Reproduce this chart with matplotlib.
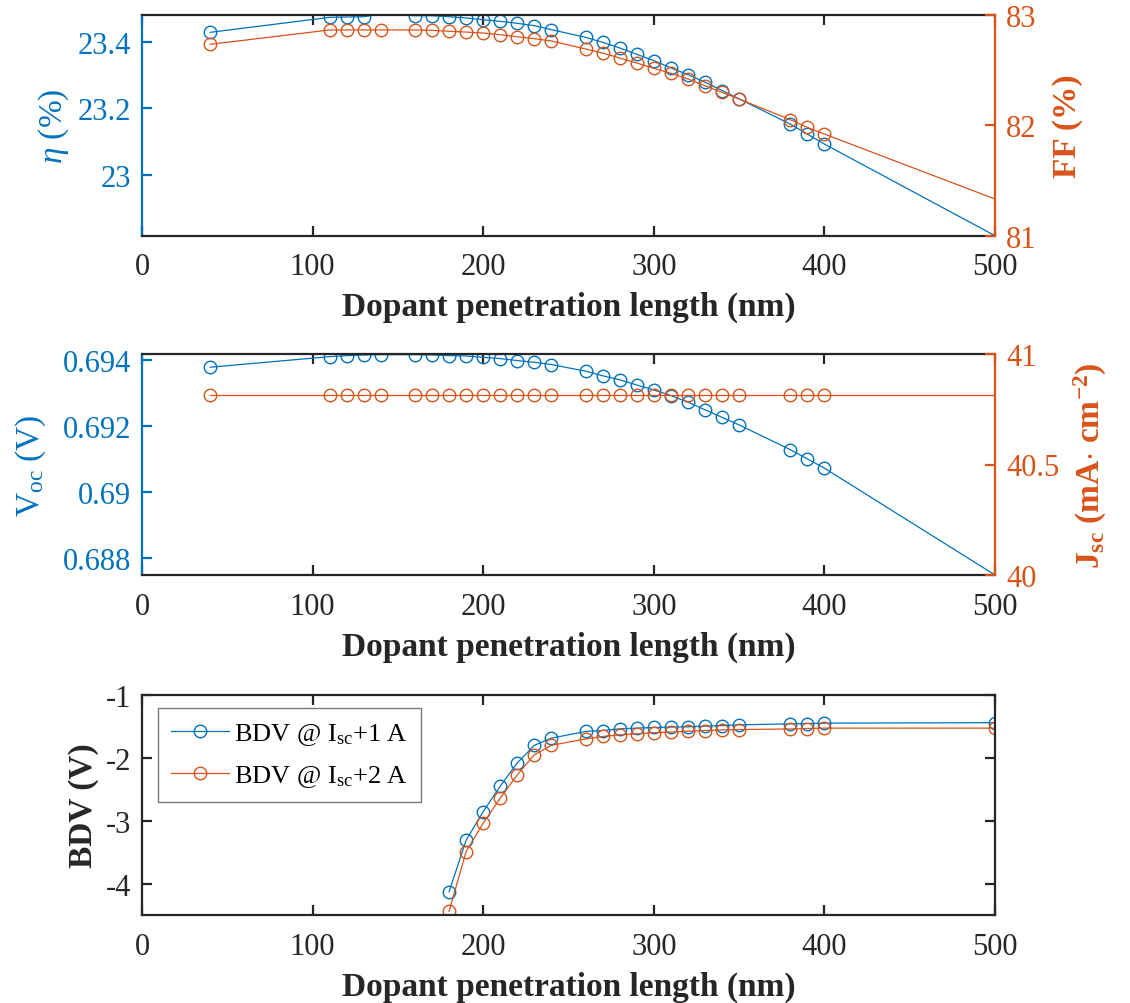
import numpy as np
import matplotlib
matplotlib.use("Agg")
import matplotlib.pyplot as plt

plt.rcParams['font.family'] = ['Liberation Serif', 'DejaVu Serif']
plt.rcParams['mathtext.fontset'] = 'custom'
plt.rcParams['mathtext.rm'] = 'Liberation Serif'
plt.rcParams['mathtext.it'] = 'Liberation Serif:italic'
plt.rcParams['mathtext.bf'] = 'Liberation Serif:bold'

# ---------------- data ----------------
length_nm = [40, 110, 120, 130, 140, 160, 170, 180, 190, 200, 210, 220, 230, 240,
             260, 270, 280, 290, 300, 310, 320, 330, 340, 350, 380, 390, 400, 500]
eta = [23.428, 23.473, 23.474, 23.475, 23.483, 23.478, 23.478, 23.475, 23.471, 23.466,
       23.461, 23.455, 23.448, 23.436, 23.413, 23.398, 23.381, 23.362, 23.343, 23.321,
       23.301, 23.278, 23.253, 23.228, 23.152, 23.122, 23.092, 22.8165]
ff = [82.732, 82.862, 82.862, 82.862, 82.862, 82.862, 82.858, 82.850, 82.843, 82.834,
      82.819, 82.800, 82.783, 82.762, 82.690, 82.653, 82.608, 82.563, 82.515, 82.470,
      82.418, 82.357, 82.297, 82.237, 82.050, 81.980, 81.920, 81.332]
voc = [0.69378, 0.69410, 0.69413, 0.69415, 0.69416, 0.69416, 0.69415, 0.69413, 0.69412,
       0.69408, 0.69404, 0.69398, 0.69393, 0.69386, 0.69366, 0.69352, 0.69340, 0.69324,
       0.69309, 0.69292, 0.69272, 0.69249, 0.69226, 0.69203, 0.69128, 0.69100, 0.69072,
       0.68748]
jsc = [40.816] * 28

bdv_length = [180, 190, 200, 210, 220, 230, 240, 260, 270, 280, 290, 300, 310, 320,
              330, 340, 350, 380, 390, 400, 500]
bdv_1A = [-4.13, -3.31, -2.855, -2.45, -2.08, -1.80, -1.686, -1.58, -1.565, -1.538,
          -1.527, -1.517, -1.51, -1.506, -1.495, -1.486, -1.475, -1.459, -1.454, -1.448,
          -1.44]
bdv_2A = [-4.44, -3.49, -3.04, -2.64, -2.27, -1.95, -1.80, -1.70, -1.66, -1.634,
          -1.618, -1.60, -1.59, -1.575, -1.565, -1.554, -1.55, -1.54, -1.533, -1.527,
          -1.527]

x_ticks = [0, 100, 200, 300, 400, 500]
eta_ticks = [23.0, 23.2, 23.4]
eta_ticklabels = ['23', '23.2', '23.4']
ff_ticks = [81, 82, 83]
ff_ticklabels = ['81', '82', '83']
voc_ticks = [0.688, 0.690, 0.692, 0.694]
voc_ticklabels = ['0.688', '0.69', '0.692', '0.694']
jsc_ticks = [40, 40.5, 41]
jsc_ticklabels = ['40', '40.5', '41']
bdv_ticks = [-4, -3, -2, -1]
bdv_ticklabels = ['-4', '-3', '-2', '-1']

# ---------------- style ----------------
BLUE = '#0072BD'
ORANGE = '#D95319'
DARK = '#262626'
FS = 22      # tick labels
FL = 24      # axis labels
LW_AX = 1.6
MS = 9

fig = plt.figure(figsize=(11.3, 10.04), dpi=100)

L, W = 142 / 1130, (995 - 142) / 1130
def pos(top, bot):
    return [L, 1 - bot / 1004, W, (bot - top) / 1004]

def style_pair(ax, ax2, lcol, rcol):
    for s in ['top', 'bottom']:
        ax.spines[s].set_color(DARK)
        ax.spines[s].set_linewidth(LW_AX)
        ax2.spines[s].set_visible(False)
    ax.spines['right'].set_visible(False)
    ax2.spines['left'].set_visible(False)
    ax.spines['left'].set_color(lcol)
    ax.spines['left'].set_linewidth(LW_AX)
    ax2.spines['right'].set_color(rcol)
    ax2.spines['right'].set_linewidth(LW_AX)
    ax.tick_params(axis='x', direction='in', top=True, bottom=True, length=7,
                   width=LW_AX, colors=DARK, labelsize=FS, pad=12)
    ax.tick_params(axis='y', direction='in', left=True, right=False, length=7,
                   width=LW_AX, colors=lcol, labelsize=FS, pad=8)
    ax2.tick_params(axis='y', direction='in', right=True, left=False, length=7,
                    width=LW_AX, colors=rcol, labelsize=FS, pad=8)

def plot_series(ax, x, y, color, ylim, marker_all=False):
    x = np.asarray(x); y = np.asarray(y)
    mask = (y <= ylim[1]) & (y >= ylim[0])
    if not marker_all:
        mask &= x < 500
    ax.plot(x, y, '-', color=color, lw=0.9, marker='o', ms=MS, mfc='none',
            mec=color, mew=1.0, markevery=list(np.where(mask)[0]))

xlabel = 'Dopant penetration length (nm)'
XLPAD = 7

# ---- top panel ----
eta_lim = (22.8165, 23.481)
ff_lim = (81, 83)
ax1 = fig.add_axes(pos(15.7, 236.7))
ax1b = ax1.twinx()
plot_series(ax1, length_nm, eta, BLUE, eta_lim)
plot_series(ax1b, length_nm, ff, ORANGE, ff_lim)
ax1.set_xlim(0, 500); ax1.set_ylim(*eta_lim); ax1b.set_ylim(*ff_lim)
ax1.set_xticks(x_ticks)
ax1.set_yticks(eta_ticks); ax1.set_yticklabels(eta_ticklabels)
ax1b.set_yticks(ff_ticks); ax1b.set_yticklabels(ff_ticklabels)
style_pair(ax1, ax1b, BLUE, ORANGE)
ax1.set_xlabel(xlabel, fontsize=FL, fontweight='bold', color=DARK, labelpad=XLPAD)
ax1.set_ylabel(r'$\eta$ (%)', fontsize=FL, color=BLUE)
ax1.yaxis.set_label_coords(-0.083, 0.5)
ax1b.set_ylabel('FF (%)', fontsize=FL, fontweight='bold', color=ORANGE)
ax1b.yaxis.set_label_coords(1.067, 0.5)

# ---- middle panel ----
voc_lim = (0.68748, 0.69418)
jsc_lim = (40, 41)
ax2 = fig.add_axes(pos(355, 576))
ax2b = ax2.twinx()
plot_series(ax2, length_nm, voc, BLUE, voc_lim)
plot_series(ax2b, length_nm, jsc, ORANGE, jsc_lim)
ax2.set_xlim(0, 500); ax2.set_ylim(*voc_lim); ax2b.set_ylim(*jsc_lim)
ax2.set_xticks(x_ticks)
ax2.set_yticks(voc_ticks); ax2.set_yticklabels(voc_ticklabels)
ax2b.set_yticks(jsc_ticks); ax2b.set_yticklabels(jsc_ticklabels)
style_pair(ax2, ax2b, BLUE, ORANGE)
ax2.set_xlabel(xlabel, fontsize=FL, fontweight='bold', color=DARK, labelpad=XLPAD)
ax2.set_ylabel(r'V$_{\mathrm{oc}}$ (V)', fontsize=FL, color=BLUE)
ax2.yaxis.set_label_coords(-0.110, 0.5)
ax2b.set_ylabel(r'J$_{\mathbf{sc}}$ (mA$\cdot$ cm$^{\mathbf{-2}}$)', fontsize=FL,
                fontweight='bold', color=ORANGE)
ax2b.yaxis.set_label_coords(1.090, 0.5)

# ---- bottom panel ----
bdv_lim = (-4.5, -1)
ax3 = fig.add_axes(pos(696, 916))
plot_series(ax3, bdv_length, bdv_1A, BLUE, bdv_lim, marker_all=True)
plot_series(ax3, bdv_length, bdv_2A, ORANGE, bdv_lim, marker_all=True)
ax3.lines[0].set_label(r'BDV @ I$_{\mathrm{sc}}$+1 A')
ax3.lines[1].set_label(r'BDV @ I$_{\mathrm{sc}}$+2 A')
ax3.set_xlim(0, 500); ax3.set_ylim(*bdv_lim)
ax3.set_xticks(x_ticks)
ax3.set_yticks(bdv_ticks); ax3.set_yticklabels(bdv_ticklabels)
for s in ax3.spines.values():
    s.set_color(DARK); s.set_linewidth(LW_AX)
ax3.tick_params(direction='in', top=True, right=True, length=7, width=LW_AX,
                colors=DARK, labelsize=FS)
ax3.tick_params(axis='x', pad=12)
ax3.tick_params(axis='y', pad=8)
ax3.set_xlabel(xlabel, fontsize=FL, fontweight='bold', color=DARK, labelpad=XLPAD)
ax3.set_ylabel('BDV (V)', fontsize=FL, fontweight='bold', color=DARK)
ax3.yaxis.set_label_coords(-0.050, 0.5)
leg = ax3.legend(loc='upper left', bbox_to_anchor=(0.0184, 0.941), borderaxespad=0,
                 fontsize=19, frameon=True, fancybox=False, edgecolor='#555555',
                 handlelength=2.2, handletextpad=0.2, borderpad=0.5, labelspacing=0.6)
leg.get_frame().set_linewidth(1.0)

fig.savefig('out.png', dpi=100)
